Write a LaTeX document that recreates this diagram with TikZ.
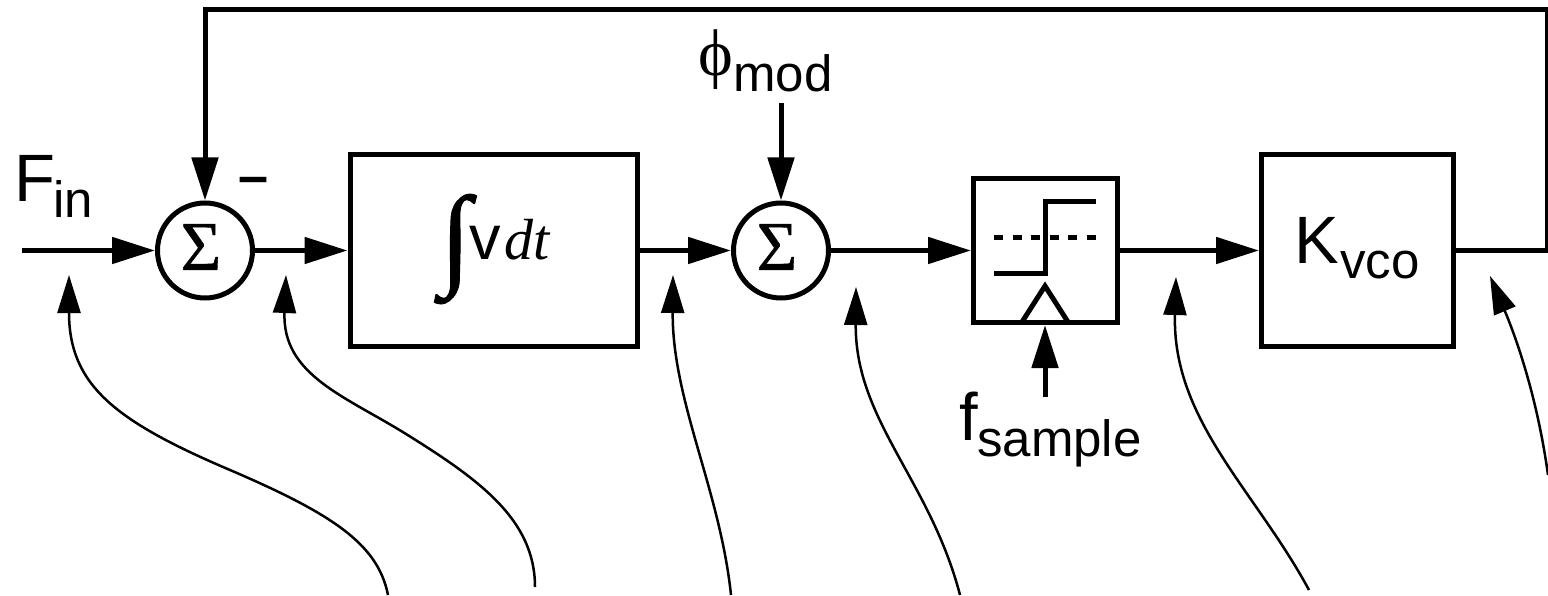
\documentclass[tikz,border=0pt]{standalone}
\usepackage{fontspec}
\setmainfont{Liberation Sans}
\newfontfamily\serifsym{Liberation Serif}
\newfontfamily\serifbold[FakeBold=0.5]{Liberation Serif}
\newfontfamily\intfont[FakeBold=0.9]{Liberation Serif}
\usetikzlibrary{arrows.meta}
\tikzset{
  thick line/.style={line width=5pt,line cap=butt,line join=miter},
  sig/.style={thick line,-{Triangle[length=43pt,width=26pt]}},
  note/.style={line width=2.5pt,-{Triangle[length=38pt,width=23pt]}},
  block/.style={draw,line width=5pt,inner sep=0pt,rectangle},
  summer/.style={draw,line width=5pt,circle,minimum size=95pt,inner sep=0pt},
  sigma/.style={inner sep=0pt,font=\serifbold\fontsize{70}{70}\selectfont},
  lab/.style={inner sep=0pt,anchor=base west},
  big text/.style={lab,font=\fontsize{67}{67}\selectfont},
  sub text/.style={lab,font=\fontsize{51}{51}\selectfont},
}
\begin{document}
\begin{tikzpicture}[x=1pt,y=-1pt]
\useasboundingbox (0,0) rectangle (1548,596);
% blocks
\node[summer] (s1) at (205,250.5) {};
\node[sigma] (s1t) at (201,247) {Σ};
\node[block,minimum width=287pt,minimum height=192.5pt] (int) at (493.5,250.5) {};
\node[summer] (s2) at (781,250.5) {};
\node[sigma] (s2t) at (777,247) {Σ};
\node[block,minimum width=143.5pt,minimum height=144pt] (samp) at (1045.25,250.5) {};
\node[block,minimum width=191.5pt,minimum height=192.5pt] (vco) at (1357.25,250.5) {};
% points
\coordinate (in) at (22,250.5);
\coordinate (fbr) at (1547,250.5);
\coordinate (fbt) at (1547,10);
\coordinate (fbl) at (205,10);
\coordinate (modp) at (781,103);
\coordinate (fs) at (1045,397);
% signal path
\draw[sig] (in) -- (s1.west);
\draw[sig] (s1.east) -- (int.west);
\draw[sig] (int.east) -- (s2.west);
\draw[sig] (s2.east) -- (samp.west);
\draw[sig] (samp.east) -- (vco.west);
\draw[sig] (vco.east) -- (fbr) -- (fbt) -- (fbl) -- (s1.north);
\draw[sig] (modp) -- (s2.north);
% sampler symbol
\coordinate (clkA) at (1022,322);
\coordinate (clkB) at (1045,286);
\coordinate (clkC) at (1068,322);
\coordinate (clkT) at (1045,325);
\draw[thick line] (clkA) -- (clkB) -- (clkC);
\draw[sig] (fs) -- (clkT);
\coordinate (st1) at (994,274);
\coordinate (st2) at (1045,274);
\coordinate (st3) at (1045,202);
\coordinate (st4) at (1096,202);
\draw[thick line] (st1) -- (st2) -- (st3) -- (st4);
\coordinate (th1) at (994,238);
\coordinate (th2) at (1097,238);
\draw[thick line,dash pattern=on 9pt off 9.5pt] (th1) -- (th2);
% labels
\node[big text] (fin) at (14,202) {F};
\node[sub text] (finsub) at (53,218) {in};
\node[lab,font=\bfseries\fontsize{54}{54}\selectfont] (minus) at (238,195) {–};
\node[lab,font=\intfont\fontsize{112}{112}\selectfont] (integ) at (440,274) {∫};
\node[lab,font=\fontsize{63}{63}\selectfont] (v) at (469,260) {v};
\node[lab,font=\serifsym\itshape\fontsize{58}{58}\selectfont] (dt) at (504,260) {dt};
\node[lab,font=\serifsym\fontsize{66}{66}\selectfont] (phi) at (698,76) {ϕ};
\node[sub text] (mod) at (733,92) {mod};
\node[big text] (f) at (959,440) {f};
\node[sub text] (samptext) at (977,456) {sample};
\node[big text] (k) at (1294,263) {K};
\node[sub text] (vcot) at (1340,279) {vco};
% annotation arrows
\coordinate (a1) at (388,595);\coordinate (t1) at (69,275);
\coordinate (a2) at (535,587);\coordinate (t2) at (286,275);
\coordinate (a3) at (731,595);\coordinate (t3) at (673,275);
\coordinate (a4) at (960,595);\coordinate (t4) at (856,287);
\coordinate (a5) at (1309,590);\coordinate (t5) at (1176,277);
\coordinate (a6) at (1548,475);\coordinate (t6) at (1490,276);
\draw[note] (a1) .. controls (378,545) and (335,515) .. (230,470) .. controls (115,421) and (69,385) .. (t1);
\draw[note] (a2) .. controls (535,520) and (480,480) .. (406,434) .. controls (345,396) and (282,375) .. (t2);
\draw[note] (a3) .. controls (720,490) and (672,400) .. (t3);
\draw[note] (a4) .. controls (930,480) and (855,420) .. (t4);
\draw[note] (a5) .. controls (1255,490) and (1172,420) .. (t5);
\draw[note] (a6) .. controls (1537,395) and (1515,335) .. (t6);
\end{tikzpicture}
\end{document}
